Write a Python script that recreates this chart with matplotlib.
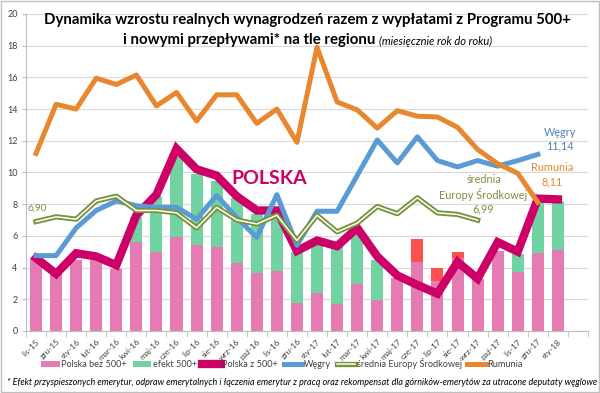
import numpy as np
import matplotlib
matplotlib.use("Agg")
import matplotlib.pyplot as plt
import matplotlib.patheffects as pe
from matplotlib.patches import Rectangle

plt.rcParams['font.family'] = ['Lato', 'DejaVu Sans']

months = ["lis-15", "gru-15", "sty-16", "lut-16", "mar-16", "kwi-16", "maj-16", "cze-16",
          "lip-16", "sie-16", "wrz-16", "paź-16", "lis-16", "gru-16", "sty-17", "lut-17",
          "mar-17", "kwi-17", "maj-17", "cze-17", "lip-17", "sie-17", "wrz-17", "paź-17",
          "lis-17", "gru-17", "sty-18"]

polska_bez = [4.57, 3.6, 4.5, 4.5, 3.9, 5.62, 4.95, 5.9, 5.45, 5.3, 4.3, 3.68, 3.8, 1.77,
              2.42, 1.68, 2.99, 1.94, 3.37, 4.32, 3.16, 4.63, 3.3, 5.05, 3.7, 4.9, 5.09]
efekt_500 = [0, 0, 0, 0, 0, 1.58, 3.55, 5.1, 4.45, 4.15, 4.1, 3.72, 3.7, 3.23,
             3.16, 3.67, 3.31, 2.51, 0, 0, 0, 0, 0, 0, 1.14, 3.3, 3.11]
nowe_przeplywy = [0, 0, 0, 0, 0, 0, 0, 0, 0, 0, 0, 0, 0, 0,
                  0, 0, 0, 0, 0, 1.51, 0.79, 0.38, 0, 0, 0, 0, 0]
polska_z = [4.6, 3.6, 4.9, 4.7, 4.15, 7.3, 8.6, 11.5, 10.2, 9.8, 8.5, 7.6, 7.6, 5.05,
            5.7, 5.35, 6.5, 4.7, 3.5, 2.9, 2.35, 4.35, 3.3, 5.6, 5.0, 8.35, 8.3]
wegry = [4.75, 4.75, 6.5, 7.6, 8.2, 7.9, 7.8, 7.8, 7.05, 8.55, 7.15, 5.9, 8.6, 5.4,
         7.55, 7.55, 9.8, 12.05, 10.6, 12.25, 10.75, 10.35, 10.75, 10.4, 10.75, 11.14, np.nan]
srednia = [6.9, 7.2, 7.05, 8.2, 8.5, 7.6, 7.6, 7.45, 6.5, 7.8, 7.0, 6.75, 7.3, 5.7,
           7.3, 6.25, 6.8, 7.85, 7.4, 8.4, 7.45, 7.35, 6.99, np.nan, np.nan, np.nan, np.nan]
rumunia = [11.2, 14.3, 14.0, 15.95, 15.55, 16.15, 14.2, 15.05, 13.25, 14.9, 14.9, 13.1, 14.0, 11.9,
           17.9, 14.45, 13.95, 12.8, 13.9, 13.55, 13.5, 12.85, 11.45, 10.55, 9.95, 8.11, np.nan]

c_pink = "#E57BB2"
c_green = "#72D3A2"
c_red = "#FF5050"
c_polska = "#CC0066"
c_wegry = "#5B9BD5"
c_olive = "#77933C"
c_rum = "#E8872E"

fig = plt.figure(figsize=(6.0, 3.93), dpi=100)
ax = fig.add_axes([0.0433, 0.158, 0.9367, 0.8064])

x = np.arange(len(months))
w = 0.6
b1 = ax.bar(x, polska_bez, w, color=c_pink, label="Polska bez 500+", zorder=2)
b2 = ax.bar(x, efekt_500, w, bottom=polska_bez, color=c_green, label="efekt 500+", zorder=2)
b3 = ax.bar(x, nowe_przeplywy, w, bottom=np.array(polska_bez) + np.array(efekt_500),
            color=c_red, zorder=2)

l1, = ax.plot(x, polska_z, color=c_polska, lw=6, solid_joinstyle="miter", zorder=3,
              label="Polska z 500+")
l2, = ax.plot(x, wegry, color=c_wegry, lw=3.6, zorder=4, label="Węgry")
l3, = ax.plot(x, srednia, color="#FFFFFF", lw=1.1, zorder=5, label="średnia Europy Środkowej",
              path_effects=[pe.Stroke(linewidth=3.8, foreground=c_olive), pe.Normal()])
l4, = ax.plot(x, rumunia, color=c_rum, lw=3.6, zorder=6, label="Rumunia")

ax.set_xlim(-0.5, 27.5)
ax.set_ylim(0, 20)
ax.set_yticks(np.arange(0, 21, 2))
ax.yaxis.grid(True, color="#D9D9D9", lw=0.8, zorder=0)
ax.set_axisbelow(True)
for s in ["top", "right"]:
    ax.spines[s].set_visible(False)
ax.spines["left"].set_color("#BFBFBF")
ax.spines["bottom"].set_color("#BFBFBF")
ax.tick_params(axis="y", length=3, color="#BFBFBF", labelsize=6.5, labelcolor="#404040", pad=3)
ax.set_xticks(x)
ax.set_xticklabels(months, rotation=45, ha="right", rotation_mode="anchor",
                   fontsize=6, color="#404040")
ax.tick_params(axis="x", length=0, pad=5)
ax.set_xticks(np.arange(-0.5, 28, 1), minor=True)
ax.tick_params(axis="x", which="minor", length=4, color="#BFBFBF")

# labels on chart
ax.text(11.6, 9.6, "POLSKA", color=c_polska, fontsize=14, fontweight="bold",
        ha="center", va="center", zorder=7)
ax.text(26.1, 12.1, "Węgry\n11,14", color="#4F81BD", fontsize=7.8, ha="center",
        va="center", linespacing=1.3, zorder=7)
ax.text(25.7, 9.85, "Rumunia\n8,11", color=c_rum, fontsize=7.8, ha="center",
        va="center", linespacing=1.3, zorder=7)
ax.text(22.3, 8.62, "średnia\nEuropy Środkowej\n6,99", color=c_olive, fontsize=7.8,
        ha="center", va="center", linespacing=1.3, zorder=7)
ax.text(-0.4, 7.75, "6,90", color=c_olive, fontsize=7.2, ha="left", va="center", zorder=7)

# title
fig.text(0.513, 0.948, "Dynamika wzrostu realnych wynagrodzeń razem z wypłatami z Programu 500+",
         fontsize=10.8, fontweight="bold", ha="center", va="center", color="#000000")
t2 = fig.text(0.0, 0.898, "i nowymi przepływami* na tle regionu ", fontsize=10.8,
              fontweight="bold", ha="left", va="center")
t3 = fig.text(0.0, 0.895, "(miesięcznie rok do roku)", fontsize=8, style="italic",
              ha="left", va="center")
r = fig.canvas.get_renderer()
w2 = t2.get_window_extent(r).width
w3 = t3.get_window_extent(r).width
start = 0.513 * 600 - (w2 + w3) / 2
t2.set_x(start / 600)
t3.set_x((start + w2) / 600)

leg = fig.legend(handles=[b1, b2, l1, l2, l3, l4], loc="center", ncol=6,
                 bbox_to_anchor=(0.47, 0.074), frameon=False, fontsize=6.6,
                 handlelength=2.0, handletextpad=0.2, columnspacing=0.6)
for t in leg.get_texts():
    t.set_color("#404040")

fig.text(0.012, 0.026, "* Efekt przyspieszonych emerytur, odpraw emerytalnych i łączenia emerytur z pracą "
         "oraz rekompensat dla górników-emerytów za utracone deputaty węglowe",
         fontsize=6.5, style="italic", ha="left", va="center", color="#000000")

fig.patches.append(Rectangle((0.002, 0.002), 0.996, 0.996, transform=fig.transFigure,
                             fill=False, edgecolor="#BFBFBF", lw=1))

fig.savefig("out.png", dpi=100)
